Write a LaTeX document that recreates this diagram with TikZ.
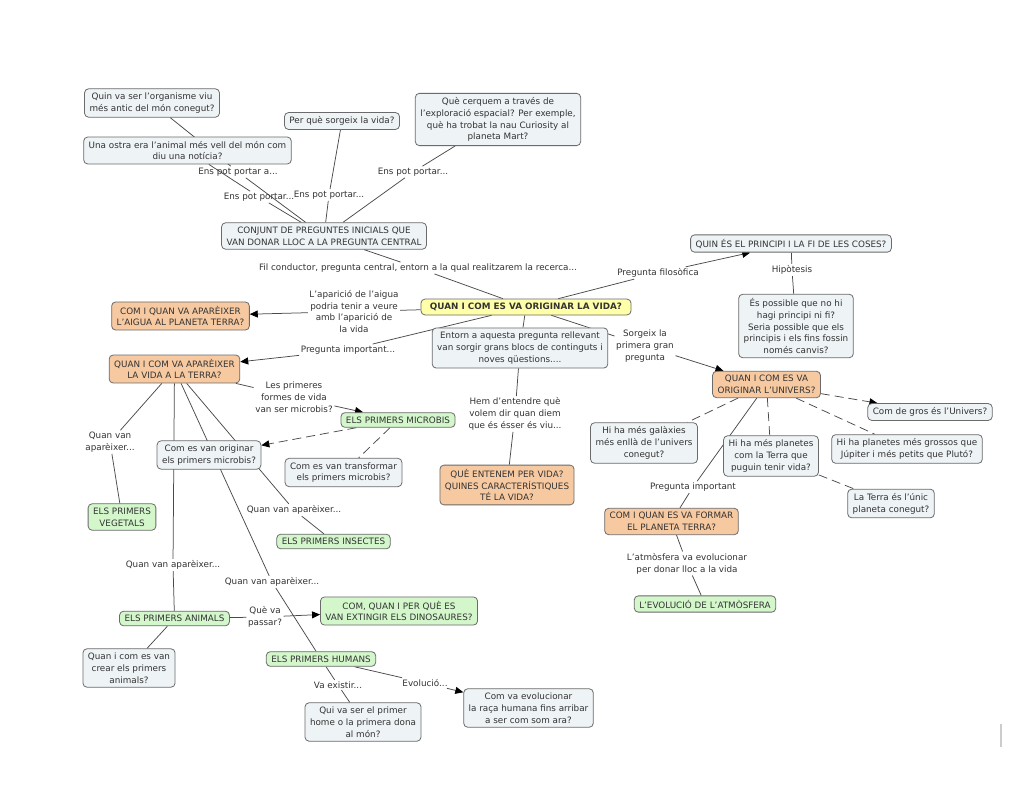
\documentclass[tikz,border=0pt]{standalone}
\usepackage{fontspec}
\setmainfont{DejaVu Sans}
\usetikzlibrary{arrows.meta}

\definecolor{boxgray}{HTML}{EEF3F5}
\definecolor{boxorange}{HTML}{F7C9A1}
\definecolor{boxgreen}{HTML}{D3F7CB}
\definecolor{boxyellow}{HTML}{FFFFAA}
\definecolor{rim}{HTML}{6B6B6B}
\definecolor{ink}{HTML}{333333}
\definecolor{wire}{HTML}{4A4A4A}

\newcommand\mapfont{\fontsize{8.8}{11.8}\selectfont}

\pgfdeclarelayer{bg}
\pgfsetlayers{bg,main}

\begin{document}
\begin{tikzpicture}[x=1pt, y=-1pt,
  q/.style={draw=rim, fill=boxgray, rounded corners=4pt, align=center, inner xsep=5pt, inner ysep=4pt, line width=0.8pt, text=ink, font=\mapfont},
  t/.style={q, fill=boxorange},
  v/.style={q, fill=boxgreen},
  c/.style={q, fill=boxyellow, inner xsep=9pt, font=\mapfont\bfseries},
  lab/.style={align=center, inner sep=1.5pt, text=ink, font=\mapfont},
  ln/.style={draw=wire, line width=0.75pt},
  dl/.style={ln, dash pattern=on 9pt off 5pt},
  ar/.style={-{Triangle[length=8pt,width=7pt,color=black]}}]
\useasboundingbox (0,0) rectangle (1024,802);

% boxes
\node[q] (org) at (152,103) {Quin va ser l'organisme viu\\més antic del món conegut?};
\node[q] (ostra) at (187.5,150.5) {Una ostra era l'animal més vell del món com\\diu una notícia?};
\node[q] (sorgeix) at (342,121) {Per què sorgeix la vida?};
\node[q] (mart) at (498,119.5) {Què cerquem a través de\\l'exploració espacial? Per exemple,\\què ha trobat la nau Curiosity al\\planeta Mart?};
\node[q] (conjunt) at (324,236) {CONJUNT DE PREGUNTES INICIALS QUE\\VAN DONAR LLOC A LA PREGUNTA CENTRAL};
\node[c] (vida) at (526,307) {QUAN I COM ES VA ORIGINAR LA VIDA?};
\node[q] (principi) at (791,243.5) {QUIN ÉS EL PRINCIPI I LA FI DE LES COSES?};
\node[q] (canvis) at (796,326) {És possible que no hi\\hagi principi ni fi?\\Seria possible que els\\principis i els fins fossin\\només canvis?};
\node[t] (aigua) at (180.5,316) {COM I QUAN VA APARÈIXER\\L'AIGUA AL PLANETA TERRA?};
\node[t] (terra) at (174.5,369) {QUAN I COM VA APARÈIXER\\LA VIDA A LA TERRA?};
\node[q] (entorn) at (520,348) {Entorn a aquesta pregunta rellevant\\van sorgir grans blocs de continguts i\\noves qüestions....};
\node[t] (univers) at (766.5,384.5) {QUAN I COM ES VA\\ORIGINAR L'UNIVERS?};
\node[q] (gros) at (930,412) {Com de gros és l'Univers?};
\node[q] (galaxies) at (644,443) {Hi ha més galàxies\\més enllà de l'univers\\conegut?};
\node[q] (planetes) at (771,456) {Hi ha més planetes\\com la Terra que\\puguin tenir vida?};
\node[q] (jupiter) at (907,449) {Hi ha planetes més grossos que\\Júpiter i més petits que Plutó?};
\node[q] (unic) at (891,503.5) {La Terra és l'únic\\planeta conegut?};
\node[t] (formar) at (671.5,521.5) {COM I QUAN ES VA FORMAR\\EL PLANETA TERRA?};
\node[v] (atmos) at (705,604) {L'EVOLUCIÓ DE L'ATMÒSFERA};
\node[v] (microbis) at (398,420) {ELS PRIMERS MICROBIS};
\node[q] (origen) at (209,455) {Com es van originar\\els primers microbis?};
\node[q] (transf) at (343.5,472.5) {Com es van transformar\\els primers microbis?};
\node[t] (entenem) at (507,485) {QUÈ ENTENEM PER VIDA?\\QUINES CARACTERÍSTIQUES\\TÉ LA VIDA?};
\node[v] (vegetals) at (122,517) {ELS PRIMERS\\VEGETALS};
\node[v] (insectes) at (333.5,541.5) {ELS PRIMERS INSECTES};
\node[v] (animals) at (174.5,618.5) {ELS PRIMERS ANIMALS};
\node[v] (dinos) at (399,611) {COM, QUAN I PER QUÈ ES\\VAN EXTINGIR ELS DINOSAURES?};
\node[q] (crear) at (129,668) {Quan i com es van\\crear els primers\\animals?};
\node[v] (humans) at (321,659) {ELS PRIMERS HUMANS};
\node[q] (home) at (363,722) {Qui va ser el primer\\home o la primera dona\\al món?};
\node[q] (raca) at (528.5,708) {Com va evolucionar\\la raça humana fins arribar\\a ser com som ara?};

% link words
\node[lab] (l1) at (238,172) {Ens pot portar a...};
\node[lab] (l2) at (259,197) {Ens pot portar...};
\node[lab] (l3) at (329,195) {Ens pot portar...};
\node[lab] (l4) at (413,172) {Ens pot portar...};
\node[lab] (lfil) at (418,268) {Fil conductor, pregunta central, entorn a la qual realitzarem la recerca...};
\node[lab] (lfilo) at (658,273) {Pregunta filosòfica};
\node[lab] (lhip) at (792,270) {Hipòtesis};
\node[lab] (laig) at (354,311.5) {L'aparició de l'aigua\\podria tenir a veure\\amb l'aparició de\\la vida};
\node[lab] (limp) at (348,350) {Pregunta important...};
\node[lab] (lsorg) at (645,346) {Sorgeix la\\primera gran\\pregunta};
\node[lab] (lform) at (294,397) {Les primeres\\formes de vida\\van ser microbis?};
\node[lab] (lhem) at (515,414) {Hem d'entendre què\\volem dir quan diem\\que és ésser és viu...};
\node[lab] (q1) at (110,442) {Quan van\\aparèixer...};
\node[lab] (q2) at (173,565) {Quan van aparèixer...};
\node[lab] (q3) at (294,510) {Quan van aparèixer...};
\node[lab] (q4) at (272,582) {Quan van aparèixer...};
\node[lab] (lque) at (265,617) {Què va\\passar?};
\node[lab] (lexist) at (338,685) {Va existir...};
\node[lab] (levol) at (425,683) {Evolució...};
\node[lab] (lpimp) at (693,487) {Pregunta important};
\node[lab] (latm) at (687,563.5) {L'atmòsfera va evolucionar\\per donar lloc a la vida};

\draw[gray!40, line width=1.5pt] (1001,724) -- (1001,747);

% links
\begin{pgfonlayer}{bg}
\fill[white] (0,0) rectangle (1024,802);
\draw[ln] (l1) -- (org) (l1) -- (conjunt)
  (l2) -- (ostra) (l2) -- (conjunt)
  (l3) -- (sorgeix) (l3) -- (conjunt)
  (l4) -- (mart) (l4) -- (conjunt)
  (conjunt) -- (lfil) (lfil) -- (vida)
  (vida) -- (lfilo) (principi) -- (lhip) (lhip) -- (canvis)
  (vida) -- (laig) (vida) -- (limp) (vida) -- (entorn) (vida) -- (lsorg)
  (entorn) -- (lhem) (lhem) -- (entenem)
  (terra) -- (lform) (terra) -- (q1) (q1) -- (vegetals)
  (terra) -- (q2) (q2) -- (animals)
  (terra) -- (q3) (q3) -- (insectes)
  (terra) -- (q4) (q4) -- (humans)
  (animals) -- (lque) (animals) -- (crear)
  (humans) -- (lexist) (lexist) -- (home) (humans) -- (levol)
  (univers) -- (lpimp) (lpimp) -- (formar)
  (formar) -- (latm) (latm) -- (atmos);
\draw[ln, ar] (lfilo) -- (principi);
\draw[ln, ar] (laig) -- (aigua);
\draw[ln, ar] (limp) -- (terra);
\draw[ln, ar] (lsorg) -- (univers);
\draw[ln, ar] (lform) -- (microbis);
\draw[ln, ar] (lque) -- (dinos);
\draw[ln, ar] (levol) -- (raca);
\draw[dl, ar] (microbis) -- (origen);
\draw[dl] (microbis) -- (transf);
\draw[dl, ar] (univers) -- (gros);
\draw[dl] (univers) -- (galaxies) (univers) -- (planetes) (univers) -- (jupiter) (planetes) -- (unic);
\end{pgfonlayer}
\end{tikzpicture}
\end{document}
